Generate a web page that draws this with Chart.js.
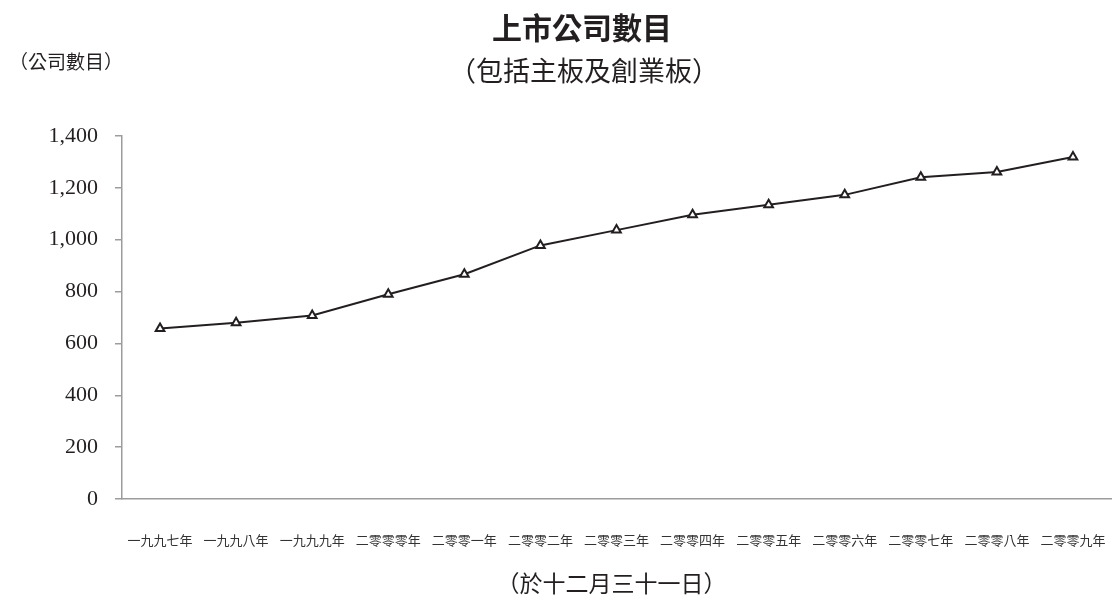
<!DOCTYPE html>
<html>
<head>
<meta charset="utf-8">
<script src="https://cdn.jsdelivr.net/npm/chart.js@4/dist/chart.umd.min.js"></script>
<style>
  html, body { margin: 0; padding: 0; background: #fff; }
  #wrap { position: relative; width: 1118px; height: 603px; }
  canvas { display: block; }
</style>
</head>
<body>
<div id="wrap"><canvas id="c" width="1118" height="603"></canvas></div>
<script>
// ---- data ----
const categories = ["一九九七年","一九九八年","一九九九年","二零零零年","二零零一年","二零零二年","二零零三年","二零零四年","二零零五年","二零零六年","二零零七年","二零零八年","二零零九年"];
const listedCompanies = [658, 680, 708, 790, 867, 978, 1037, 1096, 1135, 1173, 1241, 1261, 1319];
const yTicks = [0, 200, 400, 600, 800, 1000, 1200, 1400];
const titleText = "上市公司數目";
const subtitleText = "（包括主板及創業板）";
const yUnitText = "（公司數目）";
const xCaptionText = "（於十二月三十一日）";

const CJK = '"Noto Sans CJK TC", "Noto Sans CJK SC", sans-serif';
const SERIF = '"Liberation Serif", "DejaVu Serif", serif';
const AXIS = '#9c9c9c';
const INK = '#231f20';

const textPlugin = {
  id: 'texts',
  afterDraw(chart) {
    const ctx = chart.ctx;
    const area = chart.chartArea;
    ctx.save();
    ctx.fillStyle = INK;
    ctx.textAlign = 'center';
    ctx.textBaseline = 'middle';
    ctx.font = 'bold 30px ' + CJK;
    ctx.fillText(titleText, 582, 28);
    ctx.font = '27px ' + CJK;
    ctx.fillText(subtitleText, 584, 71);
    ctx.font = '19px ' + CJK;
    ctx.fillText(yUnitText, 66, 62);
    ctx.font = '23px ' + CJK;
    ctx.fillText(xCaptionText, (area.left + area.right) / 2 - 5, 583);
    ctx.restore();
  }
};

new Chart(document.getElementById('c'), {
  type: 'line',
  data: {
    labels: categories,
    datasets: [{
      data: listedCompanies,
      borderColor: INK,
      borderWidth: 2,
      tension: 0,
      pointStyle: 'triangle',
      pointRadius: 5,
      pointBorderWidth: 2,
      pointBackgroundColor: '#ffffff',
      pointBorderColor: INK,
      fill: false
    }]
  },
  options: {
    responsive: false,
    animation: false,
    devicePixelRatio: 1,
    layout: { padding: { left: 0, right: 6, top: 136, bottom: 0 } },
    plugins: { legend: { display: false }, tooltip: { enabled: false }, title: { display: false } },
    scales: {
      x: {
        type: 'category',
        offset: true,
        grid: { display: true, drawOnChartArea: false, drawTicks: false },
        border: { display: true, color: AXIS, width: 1.5 },
        ticks: {
          color: '#333',
          font: { family: CJK, size: 13 },
          padding: 33,
          maxRotation: 0,
          autoSkip: false
        },
        afterFit(scale) { scale.height = 104; scale.paddingLeft = 0; scale.paddingRight = 0; }
      },
      y: {
        min: 0,
        max: 1400,
        afterBuildTicks(scale) { scale.ticks = yTicks.map(v => ({ value: v })); },
        grid: { display: true, drawOnChartArea: false, drawTicks: true, tickLength: 7, color: AXIS, lineWidth: 1.5 },
        border: { display: true, color: AXIS, width: 1.5 },
        ticks: {
          color: INK,
          font: { family: SERIF, size: 22 },
          padding: 17,
          callback: (v) => Number(v).toLocaleString('en-US')
        },
        afterFit(scale) { scale.width = 122; scale.paddingTop = 0; scale.paddingBottom = 0; }
      }
    }
  },
  plugins: [textPlugin]
});
</script>
</body>
</html>
